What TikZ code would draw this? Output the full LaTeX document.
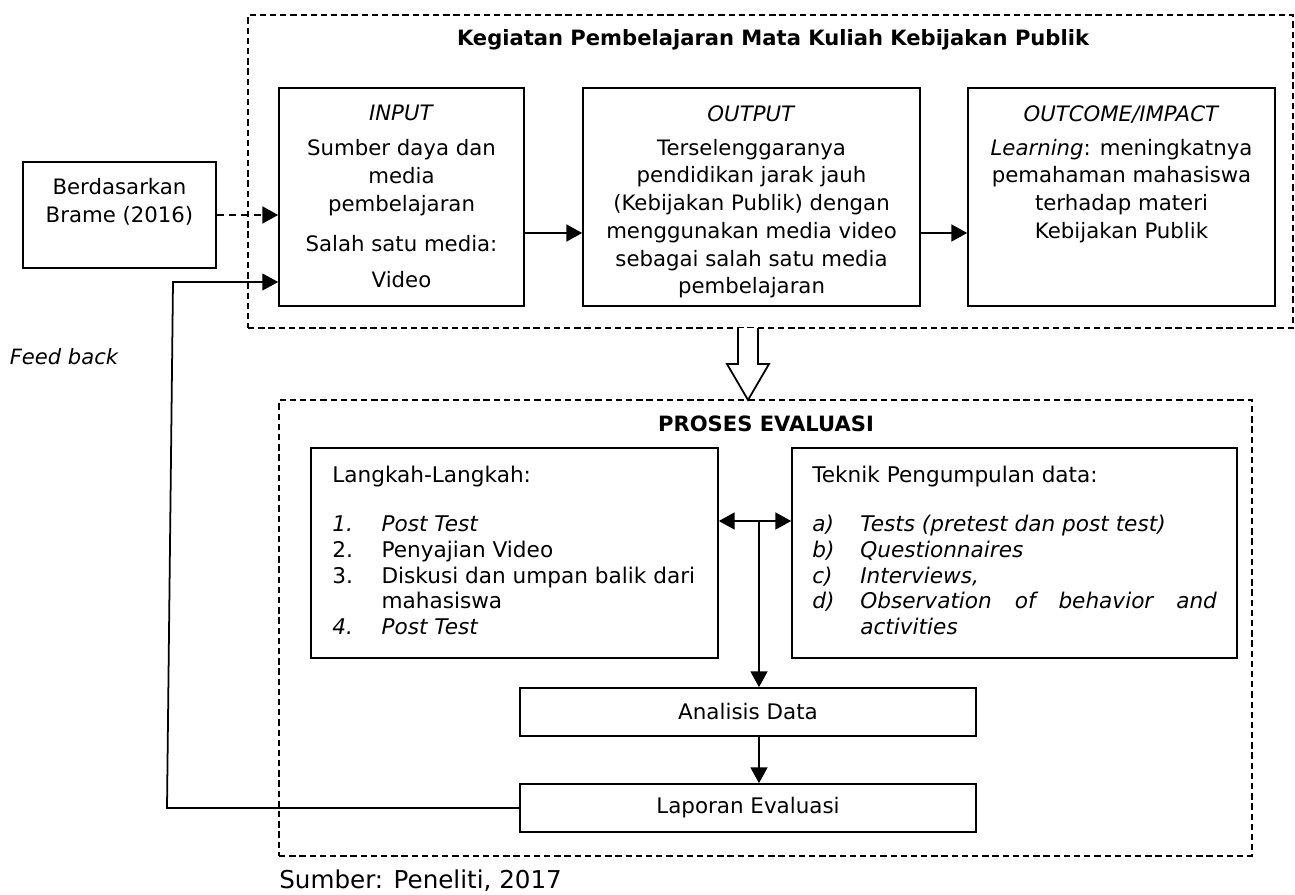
\documentclass[tikz,border=0pt]{standalone}
\usepackage{fontspec}
\setmainfont{DejaVu Sans}
\usetikzlibrary{arrows.meta}

\tikzset{
  box/.style={draw, line width=0.9pt, inner sep=0pt, font=\fontsize{12.2}{14.7}\selectfont},
  dashbox/.style={draw, line width=1.1pt, dash pattern=on 3.6pt off 2.2pt, inner sep=0pt},
  arr/.style={line width=1.4pt, -{Triangle[length=9pt,width=9.5pt]}},
  toptext/.style={align=center, inner sep=0pt, font=\fontsize{12.1}{15.8}\selectfont},
  listtext/.style={align=left, inner sep=0pt, font=\fontsize{12.3}{14.7}\selectfont},
  heading/.style={inner sep=0pt, font=\bfseries\fontsize{12}{14}\selectfont},
}

\begin{document}
\begin{tikzpicture}[x=0.02cm, y=-0.02cm]
    \useasboundingbox (0,0) rectangle (1295,895);

    % the two dashed frames
    \node[dashbox, minimum width=20.9cm, minimum height=6.26cm] (kegiatan) at (770.5,171.5) {};
    \node[dashbox, minimum width=19.46cm, minimum height=9.12cm] (proses) at (765.5,628) {};
    \node[heading] (kegiatantitle) at (773,40) {Kegiatan Pembelajaran Mata Kuliah Kebijakan Publik};
    \node[heading] (prosestitle) at (766,424) {PROSES EVALUASI};

    % upper row
    \node[box, minimum width=3.86cm, minimum height=2.12cm] (brame) at (119.5,215) {};
    \node[toptext] (brametxt) at (119.5,202) {Berdasarkan\\ Brame (2016)};

    \node[box, minimum width=4.9cm, minimum height=4.36cm] (input) at (401.5,197) {};
    \node[toptext, anchor=north] (inputtxt) at (401.5,105) {\textit{INPUT}\\[4pt]
    Sumber daya dan\\ media\\ pembelajaran\\[7pt]
    Salah satu media:\\[5pt] Video};

    \node[box, minimum width=6.74cm, minimum height=4.36cm] (output) at (751.5,197) {};
    \node[toptext, anchor=north] (outputtxt) at (751.5,105) {\textit{OUTPUT}\\[3.5pt]
    Terselenggaranya\\ pendidikan jarak jauh\\ (Kebijakan Publik) dengan\\
    menggunakan media video\\ sebagai salah satu media\\ pembelajaran};

    \node[box, minimum width=6.14cm, minimum height=4.36cm] (outcome) at (1121.5,197) {};
    \node[toptext, anchor=north] (outcometxt) at (1121.5,105) {\textit{OUTCOME/IMPACT}\\[3.5pt]
    \textit{Learning}: meningkatnya\\ pemahaman mahasiswa\\ terhadap materi\\ Kebijakan Publik};

    \draw[arr, dash pattern=on 4pt off 3pt] (brame.east) -- (brame.east -| input.west);
    \draw[arr] ([yshift=-0.72cm]input.east) -- ([yshift=-0.72cm]output.west);
    \draw[arr] ([yshift=-0.72cm]output.east) -- ([yshift=-0.72cm]outcome.west);

    % hollow arrow down to the evaluation
    \draw[line width=1pt, fill=white] (738,328) -- (738,364) -- (727,364) -- (748,400)
        -- (769,364) -- (758,364) -- (758,328);

    % lower part
    \node[box, minimum width=8.14cm, minimum height=4.2cm] (langkah) at (514.5,553) {};
    \node[listtext, anchor=north west] (langkahtxt) at (332,466) {Langkah-Langkah:\\[13pt]
    \makebox[28pt][l]{\textit{1.}}\textit{Post Test}\\
    \makebox[28pt][l]{2.}Penyajian Video\\
    \makebox[28pt][l]{3.}Diskusi dan umpan balik dari\\
    \hspace*{28pt}mahasiswa\\
    \makebox[28pt][l]{\textit{4.}}\textit{Post Test}};

    \node[box, minimum width=8.9cm, minimum height=4.2cm] (teknik) at (1014.5,553) {};
    \node[listtext, anchor=north west] (tekniktxt) at (812,466) {Teknik Pengumpulan data:\\[13pt]
    \makebox[27.3pt][l]{\textit{a)}}\textit{Tests (pretest dan post test)}\\
    \makebox[27.3pt][l]{\textit{b)}}\textit{Questionnaires}\\
    \makebox[27.3pt][l]{\textit{c)}}\textit{Interviews,}\\
    \makebox[27.3pt][l]{\textit{d)}}\makebox[203pt][s]{\textit{Observation of behavior and}}\\
    \hspace*{27.3pt}\textit{activities}};

    \node[box, minimum width=9.12cm, minimum height=0.96cm] (analisis) at (748,712) {Analisis Data};
    \node[box, minimum width=9.12cm, minimum height=0.96cm] (laporan) at (748,808) {Laporan Evaluasi};

    \coordinate (junction) at (759,521);
    \draw[line width=1.4pt, {Triangle[length=9pt,width=9.5pt]}-{Triangle[length=9pt,width=9.5pt]}]
        (junction -| langkah.east) -- (junction -| teknik.west);
    \draw[arr] (junction) -- (junction |- analisis.north);
    \draw[arr] (junction |- analisis.south) -- (junction |- laporan.north);

    % feed back loop
    \coordinate (fbbottom) at (167,808);
    \coordinate (fbtop) at (173,282);
    \draw[arr, line width=1pt] (laporan.west) -- (fbbottom) -- (fbtop) -- (fbtop -| input.west);
    \node[font=\itshape\fontsize{12}{14}\selectfont] (feedback) at (64,357) {Feed back};

    \node[anchor=west, inner sep=0pt, font=\fontsize{14}{16}\selectfont] (sumber) at (279,881) {Sumber: Peneliti, 2017};
\end{tikzpicture}
\end{document}
